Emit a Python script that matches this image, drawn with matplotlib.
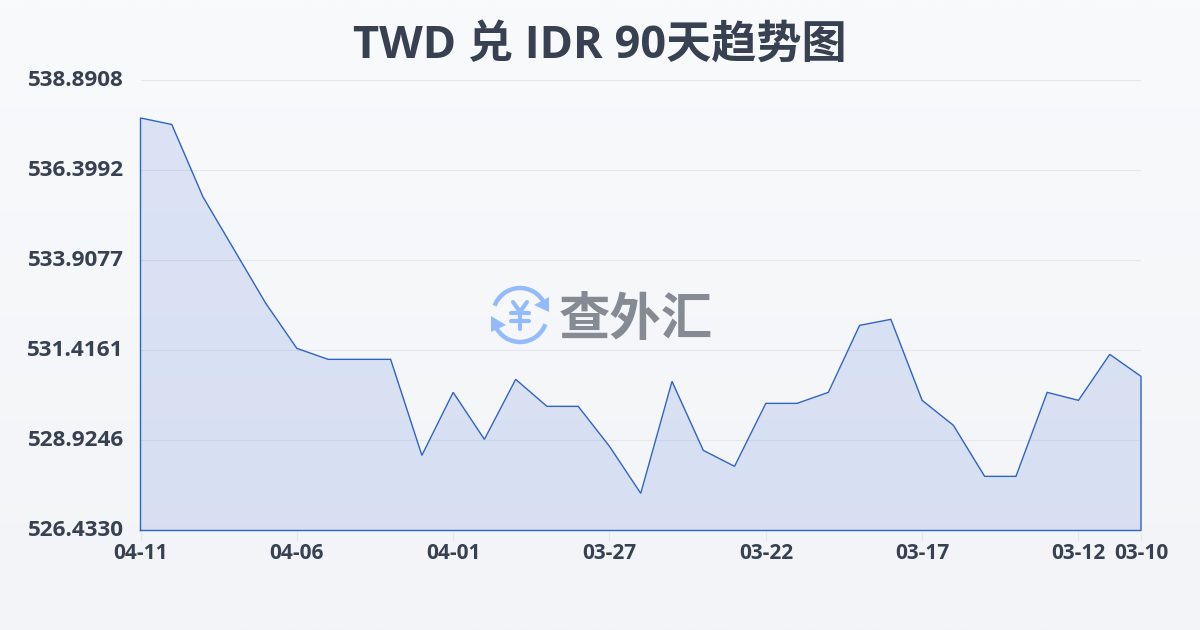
import numpy as np
import matplotlib
matplotlib.use('Agg')
import matplotlib.pyplot as plt
from matplotlib.patches import Arc, Polygon
from matplotlib.transforms import ScaledTranslation

plt.rcParams['font.family'] = ['Open Sans', 'Noto Sans CJK SC', 'DejaVu Sans']

title = 'TWD 兑 IDR 90天趋势图'
rates = [537.841, 537.661, 535.656, 534.190, 532.724, 531.470, 531.166, 531.166, 531.166,
         528.511, 530.253, 528.953, 530.613, 529.866, 529.866, 528.760, 527.460, 530.557,
         528.649, 528.207, 529.949, 529.949, 530.253, 532.106, 532.272, 530.032, 529.341,
         527.930, 527.930, 530.253, 530.032, 531.304, 530.696]
y_ticks = [526.4330, 528.9246, 531.4161, 533.9077, 536.3992, 538.8908]
x_tick_pos = [0, 5, 10, 15, 20, 25, 30, 32]
x_tick_labels = ['04-11', '04-06', '04-01', '03-27', '03-22', '03-17', '03-12', '03-10']

W, H = 1200, 630
fig = plt.figure(figsize=(W / 100, H / 100), dpi=100)

# page background, vertical gradient
bg = fig.add_axes([0, 0, 1, 1], zorder=0)
grad = np.linspace(0, 1, 256).reshape(-1, 1, 1)
top = np.array([249, 250, 252]) / 255
bottom = np.array([243, 244, 247]) / 255
bg.imshow(top + (bottom - top) * grad, aspect='auto', extent=[0, W, H, 0])
bg.axis('off')

ax = fig.add_axes([140.5 / W, 1 - 530.5 / H, 1000.5 / W, 450.5 / H], zorder=1)
ax.patch.set_alpha(0)
x = np.arange(len(rates))
ax.fill_between(x, rates, y_ticks[0], color='#2a5fd0', alpha=0.14, linewidth=0, zorder=2)
ax.plot(np.r_[x[0], x, x[-1], x[0]], np.r_[y_ticks[0], rates, y_ticks[0], y_ticks[0]],
        color='#2f63c6', linewidth=1.0, solid_joinstyle='miter', zorder=3, clip_on=False)

ax.set_xlim(0, len(rates) - 1)
ax.set_ylim(y_ticks[0], y_ticks[-1])
ax.set_yticks(y_ticks)
ax.set_yticklabels(['%.4f' % v for v in y_ticks], fontweight='bold',
                   fontsize=16.2, color='#374151')
ax.set_xticks(x_tick_pos)
ax.set_xticklabels(x_tick_labels, fontweight='bold',
                   fontsize=15, color='#374151')
ax.tick_params(axis='y', length=0, pad=12)
ax.tick_params(axis='x', length=7, width=0.8, color='#e5e7eb', pad=2)
shift = ScaledTranslation(0, 2 / 100, fig.dpi_scale_trans)
for lab in ax.get_yticklabels():
    lab.set_transform(lab.get_transform() + shift)
ax.grid(axis='y', color='#e5e7eb', linewidth=0.8, zorder=1)
ax.set_axisbelow(True)
for s in ax.spines.values():
    s.set_visible(False)

fig.text(600 / W, 1 - 46 / H, title, ha='center', va='center', fontsize=32.5,
         fontweight='bold', color='#374151')

# watermark logo, in pixel coordinates
logo = fig.add_axes([0, 0, 1, 1], zorder=2)
logo.set_xlim(0, W)
logo.set_ylim(H, 0)
logo.axis('off')
blue = '#93bbfb'
logo.add_patch(Arc((520, 315), 54, 54, theta1=200, theta2=335, color=blue, linewidth=3.2))
logo.add_patch(Arc((520, 315), 54, 54, theta1=20, theta2=155, color=blue, linewidth=3.2))
logo.add_patch(Polygon([[549, 297], [549, 312], [534, 305]], color=blue, linewidth=0))
logo.add_patch(Polygon([[491, 316], [491, 332], [506, 325]], color=blue, linewidth=0))
logo.plot([513, 520, 527], [302, 312, 302], color=blue, linewidth=3, solid_capstyle='round')
logo.plot([520, 520], [312, 329], color=blue, linewidth=3, solid_capstyle='round')
logo.plot([511, 529], [313, 313], color=blue, linewidth=3, solid_capstyle='round')
logo.plot([511, 529], [321, 321], color=blue, linewidth=3, solid_capstyle='round')
logo.text(636, 319, '查外汇', ha='center', va='center', fontsize=37, fontweight='bold',
          family='Noto Sans CJK SC', color='#858a93')

fig.savefig('out.png', dpi=100)
